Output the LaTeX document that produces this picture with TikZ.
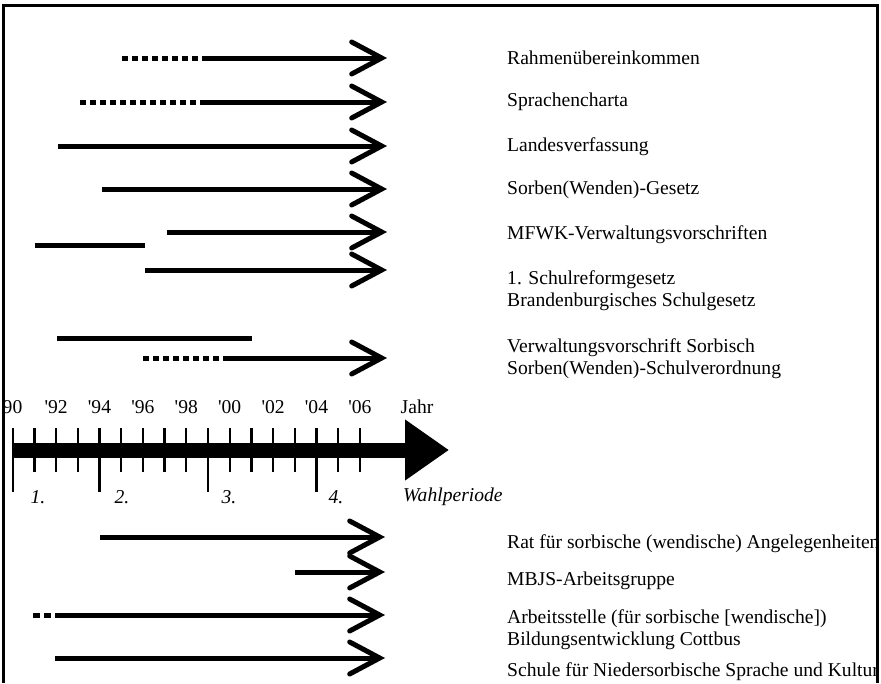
\documentclass[tikz,border=0pt]{standalone}
\usepackage{fontspec}
\setmainfont{Liberation Serif}
\usetikzlibrary{arrows.meta}

\begin{document}
\begin{tikzpicture}[x=1pt,y=-1pt,
  lbl/.style={anchor=west, inner sep=0pt, align=left, font=\fontsize{19.6}{22}\selectfont},
  yr/.style={inner sep=0pt, font=\fontsize{19.6}{22}\selectfont},
  per/.style={inner sep=0pt, font=\fontsize{19.6}{22}\selectfont\itshape},
  span/.style={line width=5pt},
  pointer/.style={line width=5pt, -{Straight Barb[length=30pt,width=32pt,line cap=round]}},
  dotline/.style={line width=5pt, dash pattern=on 5.5pt off 4.5pt},
  tickmark/.style={line width=2.3pt},
  frameline/.style={line width=3pt}
]
\useasboundingbox (0,0) rectangle (881,683);

% ---------- time axis ----------
\coordinate (axS) at (12,450);
\coordinate (axE) at (449,450);
\draw[line width=15pt, -{Triangle[length=44pt,width=58pt]}] (axS) -- (axE);
\foreach \i in {0,...,16}
  \draw[tickmark] ({12.7+21.7*\i},428) -- ++(0,44);
\foreach \i in {0,4,9,14}
  \draw[tickmark] ({12.7+21.7*\i},428) -- ++(0,64);

\node[yr, anchor=east] (y90) at (22.5,407) {90};
\foreach \i/\t in {1/92,2/94,3/96,4/98,5/00,6/02,7/04,8/06}
  \node[yr] (y\i) at ({12.7+43.4*\i},407) {\textquotesingle\t};
\node[yr] (jahr) at (417,407) {Jahr};

\node[per] (p1) at (38,497) {1.};
\node[per] (p2) at (122,497) {2.};
\node[per] (p3) at (229,497) {3.};
\node[per] (p4) at (336,497) {4.};
\node[per, anchor=west] (wp) at (403,497) {Wahlperiode};

% ---------- upper rows ----------
\coordinate (a1) at (122,58);  \coordinate (b1) at (205,58);  \coordinate (e1) at (387,58);
\draw[dotline] (a1) -- (b1);
\draw[pointer] (b1) -- (e1);

\coordinate (a2) at (80,102);  \coordinate (b2) at (205,102); \coordinate (e2) at (387,102);
\draw[dotline] (a2) -- (b2);
\draw[pointer] (b2) -- (e2);

\coordinate (a3) at (58,146);  \coordinate (e3) at (387,146);
\draw[pointer] (a3) -- (e3);

\coordinate (a4) at (102,189); \coordinate (e4) at (387,189);
\draw[pointer] (a4) -- (e4);

\coordinate (a5) at (167,232); \coordinate (e5) at (387,232);
\draw[pointer] (a5) -- (e5);

\coordinate (s6) at (35,245);  \coordinate (t6) at (145,245);
\draw[span] (s6) -- (t6);
\coordinate (a6) at (145,270); \coordinate (e6) at (387,270);
\draw[pointer] (a6) -- (e6);

\coordinate (s7) at (57,338);  \coordinate (t7) at (252,338);
\draw[span] (s7) -- (t7);
\coordinate (a7) at (143,358); \coordinate (b7) at (228,358); \coordinate (e7) at (387,358);
\draw[dotline] (a7) -- (b7);
\draw[pointer] (b7) -- (e7);

% ---------- lower rows ----------
\coordinate (a8) at (100,537); \coordinate (e8) at (385,537);
\draw[pointer] (a8) -- (e8);

\coordinate (a9) at (295,572); \coordinate (e9) at (385,572);
\draw[pointer] (a9) -- (e9);

\coordinate (d10) at (33,615); \coordinate (c10) at (51,615);
\coordinate (a10) at (55,615); \coordinate (e10) at (385,615);
\draw[line width=5pt, dash pattern=on 7pt off 4pt] (d10) -- (c10);
\draw[pointer] (a10) -- (e10);

\coordinate (a11) at (55,658); \coordinate (e11) at (385,658);
\draw[pointer] (a11) -- (e11);

% ---------- labels ----------
\begin{scope}
\clip (0,0) rectangle (876,683);
\node[lbl] (l1) at (507,58)  {Rahmenübereinkommen};
\node[lbl] (l2) at (507,102) {Sprachencharta};
\node[lbl] (l3) at (507,147) {Landesverfassung};
\node[lbl] (l4) at (507,190) {Sorben(Wenden)-Gesetz};
\node[lbl] (l5) at (507,235) {MFWK-Verwaltungsvorschriften};
\node[lbl] (l6) at (507,291) {1. Schulreformgesetz\\Brandenburgisches Schulgesetz};
\node[lbl] (l7) at (507,359) {Verwaltungsvorschrift Sorbisch\\Sorben(Wenden)-Schulverordnung};
\node[lbl] (l8) at (507,544) {Rat für sorbische (wendische) Angelegenheiten};
\node[lbl] (l9) at (507,581) {MBJS-Arbeitsgruppe};
\node[lbl] (l10) at (507,630) {Arbeitsstelle (für sorbische [wendische])\\Bildungsentwicklung Cottbus};
\node[lbl] (l11) at (507,672) {Schule für Niedersorbische Sprache und Kultur};
\end{scope}

% ---------- frame ----------
\draw[frameline] (3,683) -- (3,5) -- (877,5) -- (877,683);
\end{tikzpicture}
\end{document}
